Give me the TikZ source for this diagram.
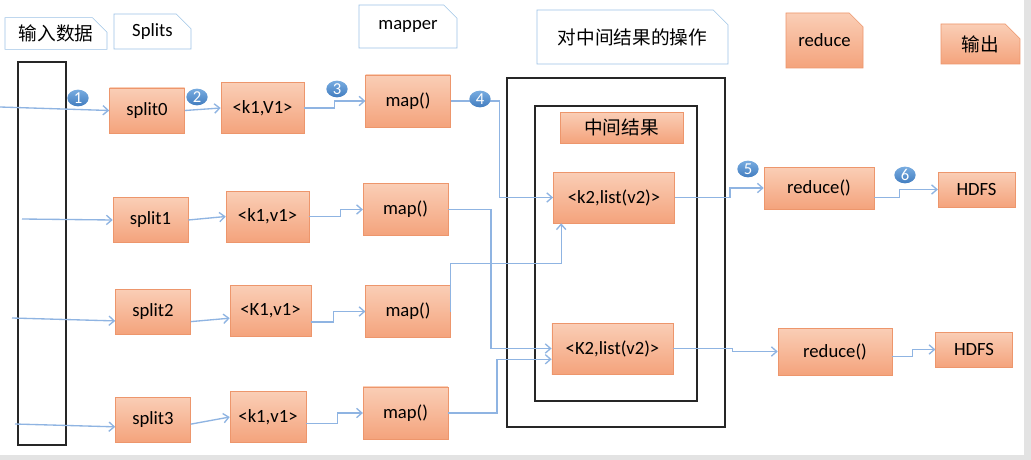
\documentclass[tikz,border=0pt]{standalone}
\usepackage{fontspec}
\setmainfont{Carlito}
\newfontfamily\cjk{Noto Sans CJK SC}
\usetikzlibrary{arrows.meta,shapes.geometric,shapes.misc}
\definecolor{edgeblue}{RGB}{143,180,226}
\definecolor{tagline}{RGB}{157,195,230}
\definecolor{peachtop}{RGB}{250,206,182}
\definecolor{peachbot}{RGB}{244,163,124}
\definecolor{peachline}{RGB}{237,150,108}
\definecolor{dottop}{RGB}{120,172,224}
\definecolor{dotbot}{RGB}{66,125,192}
\begin{document}
\begin{tikzpicture}[x=0.75pt, y=-0.75pt,
  font=\fontsize{14}{16}\selectfont,
  cjktext/.style={font=\cjk\fontsize{14}{16}\selectfont},
  tag/.style={chamfered rectangle, chamfered rectangle corners=north east, chamfered rectangle xsep=5.5pt, chamfered rectangle ysep=5.5pt, draw=tagline, fill=white, inner sep=0pt},
  peach/.style={draw=peachline, top color=peachtop, bottom color=peachbot},
  box/.style={peach, inner sep=1pt},
  split/.style={box, minimum width=56.25pt, minimum height=33.75pt},
  kv/.style={box, minimum width=62.25pt, minimum height=38pt},
  mapf/.style={box, minimum width=63.5pt, minimum height=39.25pt},
  grp/.style={box, minimum width=91pt, minimum height=38.25pt},
  red/.style={box, minimum width=84pt, minimum height=33.75pt},
  hdfs/.style={box, minimum width=57.5pt, minimum height=26.25pt},
  frame/.style={draw=black!85, line width=0.8pt, inner sep=0pt},
  dot/.style={ellipse, inner sep=0pt, minimum width=16pt, minimum height=12.5pt, top color=dottop, bottom color=dotbot, text=white, font=\fontsize{12.5}{13}\selectfont},
  flow/.style={draw=edgeblue, line width=1pt, -{Straight Barb[length=4pt,width=7pt]}}
]
\fill[white] (0,0) rectangle (1031,460);
\useasboundingbox (0,0) rectangle (1031,460);
\fill[gray!22] (1024,0) rectangle (1031,460);
\fill[gray!22] (0,455) rectangle (1031,460);

\node[tag, minimum width=76.5pt, minimum height=23.25pt, cjktext] (lin) at (56,33.5) {输入数据};
\node[tag, minimum width=57.75pt, minimum height=26.25pt] (lsp) at (152.5,31.5) {Splits};
\node[tag, minimum width=73.5pt, minimum height=32.25pt] (lmap) at (408,26.5) {mapper};
\node[tag, minimum width=143.25pt, minimum height=40.5pt, cjktext] (lmid) at (632.5,37) {对中间结果的操作};
\node[tag, peach, minimum width=57.75pt, minimum height=41.25pt] (lred) at (824.5,40.5) {reduce};
\node[tag, peach, minimum width=59.25pt, minimum height=30pt, cjktext] (lout) at (980.5,44) {输出};

\node[frame, minimum width=36pt, minimum height=287.25pt] (col) at (42,253.5) {};
\node[frame, minimum width=163.5pt, minimum height=261.75pt] (outer) at (616,252.5) {};
\node[frame, minimum width=121.5pt, minimum height=221.25pt] (inner) at (616,253.5) {};
\node[box, minimum width=92.25pt, minimum height=23.25pt, cjktext] (mid) at (621.5,127.5) {中间结果};

\node[split] (s0) at (147,110.5) {split0};
\node[split] (s1) at (150.5,220) {split1};
\node[split] (s2) at (153,311.5) {split2};
\node[split] (s3) at (153,419.5) {split3};

\node[kv] (k0) at (262.5,108) {<k1,V1>};
\node[kv] (k1) at (267.5,216.5) {<k1,v1>};
\node[kv, minimum width=60.75pt] (k2) at (270.5,311) {<K1,v1>};
\node[kv, minimum width=57pt] (k3) at (268,417) {<k1,v1>};

\node[mapf] (m0) at (408,101) {map()};
\node[mapf] (m1) at (405.5,209.5) {map()};
\node[mapf] (m2) at (408,311.5) {map()};
\node[mapf] (m3) at (405.5,413) {map()};

\node[grp] (g0) at (614,197.5) {<k2,list(v2)>};
\node[grp] (g1) at (612.5,348.5) {<K2,list(v2)>};

\node[red, minimum width=82.5pt, minimum height=31.5pt] (r0) at (819,188) {reduce()};
\node[red, minimum width=85.5pt, minimum height=35.25pt] (r1) at (835,351.5) {reduce()};
\node[hdfs] (h0) at (976.5,189.5) {HDFS};
\node[hdfs] (h1) at (974,349.5) {HDFS};

\coordinate (i0) at (0,107);
\coordinate (i1) at (22,219);
\coordinate (i2) at (12,318);
\coordinate (i3) at (15,424);

\draw[flow] (i0) -- (s0.west);
\draw[flow] (s0.east) -- (k0.west);
\draw[flow] (k0.east) -- ++(30,0) |- (m0.west);
\draw[flow] (m0.east) -- ++(49,0) |- (g0.west);
\draw[flow] (i1) -- (s1.west);
\draw[flow] (s1.east) -- (k1.west);
\draw[flow] (k1.east) -- ++(31,0) |- (m1.west);
\draw[flow] (m1.east) -- ++(43,0) |- (g1.west);
\draw[flow] (i2) -- (s2.194);
\draw[flow] (s2.-15) -- (k2.190);
\draw[flow] (k2.-15) -- ++(22,0) |- (m2.west);
\draw[flow] (m2.east) -- ++(0,-48) -| (g0.206);
\draw[flow] (i3) -- (s3.191);
\draw[flow] (s3.-7) -- (k3.west);
\draw[flow] (k3.-10) -- ++(31,0) |- (m3.west);
\draw[flow] (m3.east) -- ++(49,0) |- (g1.190);
\draw[flow] (g0.east) -- ++(55,0) |- (r0.west);
\draw[flow] (r0.-10) -- ++(25,0) |- (h0.west);
\draw[flow] (g1.east) -- ++(59,0) |- (r1.west);
\draw[flow] (r1.-5) -- ++(20,0) |- (h1.west);

\node[dot] (b1) at (78,98) {1};
\node[dot] (b2) at (197,97) {2};
\node[dot] (b3) at (337,89) {3};
\node[dot] (b4) at (480,99) {4};
\node[dot] (b5) at (748,169) {5};
\node[dot] (b6) at (905,175) {6};
\end{tikzpicture}
\end{document}
